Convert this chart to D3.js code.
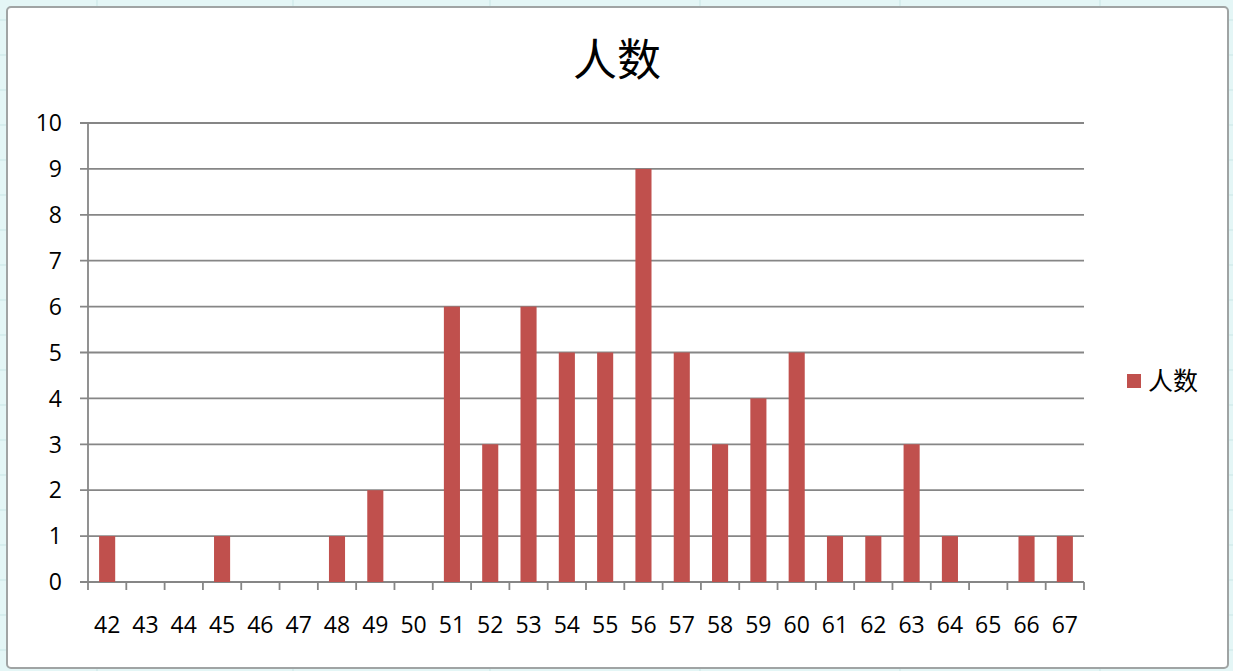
<!DOCTYPE html>
<html>
<head>
<meta charset="utf-8">
<script src="https://cdn.jsdelivr.net/npm/d3@7"></script>
<style>
  html, body { margin: 0; padding: 0; background: #e4f6f6; }
  svg { display: block; }
</style>
</head>
<body>
<div id="chart"></div>
<script>
var categories = ["42","43","44","45","46","47","48","49","50","51","52","53","54","55","56","57","58","59","60","61","62","63","64","65","66","67"];
var counts = [1,0,0,1,0,0,1,2,0,6,3,6,5,5,9,5,3,4,5,1,1,3,1,0,1,1];
var yTicks = [0,1,2,3,4,5,6,7,8,9,10];
var seriesName = "人数";

var width = 1233,
    height = 671;

var svg = d3.select("#chart").append("svg")
    .attr("width", width)
    .attr("height", height);

// spreadsheet cells behind the chart
var cellX = [97, 293, 490, 700, 900, 1100],
    cellY = [20, 55, 90, 125, 160, 195, 230, 265, 300, 335, 370, 405, 440, 475, 510, 545, 580, 615, 650];
svg.selectAll(".cx").data(cellX).enter().append("line")
    .attr("x1", d => d).attr("x2", d => d).attr("y1", 0).attr("y2", height)
    .attr("stroke", "#c9e6e6").attr("stroke-width", 1);
svg.selectAll(".cy").data(cellY).enter().append("line")
    .attr("x1", 0).attr("x2", width).attr("y1", d => d).attr("y2", d => d)
    .attr("stroke", "#c9e6e6").attr("stroke-width", 1);

// chart frame
svg.append("rect")
    .attr("x", 7).attr("y", 7)
    .attr("width", 1221).attr("height", 661)
    .attr("rx", 4)
    .attr("fill", "#fff")
    .attr("stroke", "#a0a4a4")
    .attr("stroke-width", 2);

var margin = {left: 88, right: 1084, top: 123, bottom: 582};

var x = d3.scaleBand()
    .domain(categories)
    .range([margin.left, margin.right])
    .paddingInner(0.58)
    .paddingOuter(0.29);

var xTickScale = d3.scaleLinear()
    .domain([0, categories.length])
    .range([margin.left, margin.right]);

var y = d3.scaleLinear()
    .domain([0, 10])
    .range([margin.bottom, margin.top]);

var gridColor = "#868686";

// gridlines
svg.append("g")
    .selectAll("line")
    .data(yTicks)
  .enter().append("line")
    .attr("x1", margin.left - 8)
    .attr("x2", margin.right)
    .attr("y1", d => y(d))
    .attr("y2", d => y(d))
    .attr("stroke", gridColor)
    .attr("stroke-width", 1.8);

// y axis line
svg.append("line")
    .attr("x1", margin.left).attr("x2", margin.left)
    .attr("y1", margin.top).attr("y2", margin.bottom)
    .attr("stroke", gridColor).attr("stroke-width", 1.8);

// y labels
svg.append("g")
    .selectAll("text")
    .data(yTicks)
  .enter().append("text")
    .attr("x", 62)
    .attr("y", d => y(d))
    .attr("dy", "0.36em")
    .attr("text-anchor", "end")
    .attr("font-family", "Open Sans, Noto Sans, sans-serif")
    .attr("font-size", 23)
    .attr("fill", "#000")
    .text(d => d);

// bars
svg.append("g")
    .selectAll("rect")
    .data(counts)
  .enter().append("rect")
    .attr("x", (d, i) => x(categories[i]))
    .attr("y", d => y(d))
    .attr("width", x.bandwidth())
    .attr("height", d => y(0) - y(d))
    .attr("fill", "#c0504d");

// x ticks
svg.append("g")
    .selectAll("line")
    .data(d3.range(categories.length + 1))
  .enter().append("line")
    .attr("x1", d => xTickScale(d))
    .attr("x2", d => xTickScale(d))
    .attr("y1", margin.bottom)
    .attr("y2", margin.bottom + 8)
    .attr("stroke", gridColor)
    .attr("stroke-width", 1.8);

// x labels
svg.append("g")
    .selectAll("text")
    .data(categories)
  .enter().append("text")
    .attr("x", d => x(d) + x.bandwidth() / 2)
    .attr("y", 633)
    .attr("text-anchor", "middle")
    .attr("font-family", "Open Sans, Noto Sans, sans-serif")
    .attr("font-size", 23)
    .attr("fill", "#000")
    .text(d => d);

// title
svg.append("text")
    .attr("x", 617)
    .attr("y", 76)
    .attr("text-anchor", "middle")
    .attr("font-family", "Noto Sans CJK SC, sans-serif")
    .attr("font-size", 44)
    .attr("fill", "#000")
    .text(seriesName);

// legend
svg.append("rect")
    .attr("x", 1127).attr("y", 374)
    .attr("width", 14).attr("height", 14)
    .attr("fill", "#c0504d");
svg.append("text")
    .attr("x", 1148)
    .attr("y", 381)
    .attr("dy", "0.36em")
    .attr("font-family", "Noto Sans CJK SC, sans-serif")
    .attr("font-size", 25)
    .attr("fill", "#000")
    .text(seriesName);
</script>
</body>
</html>
